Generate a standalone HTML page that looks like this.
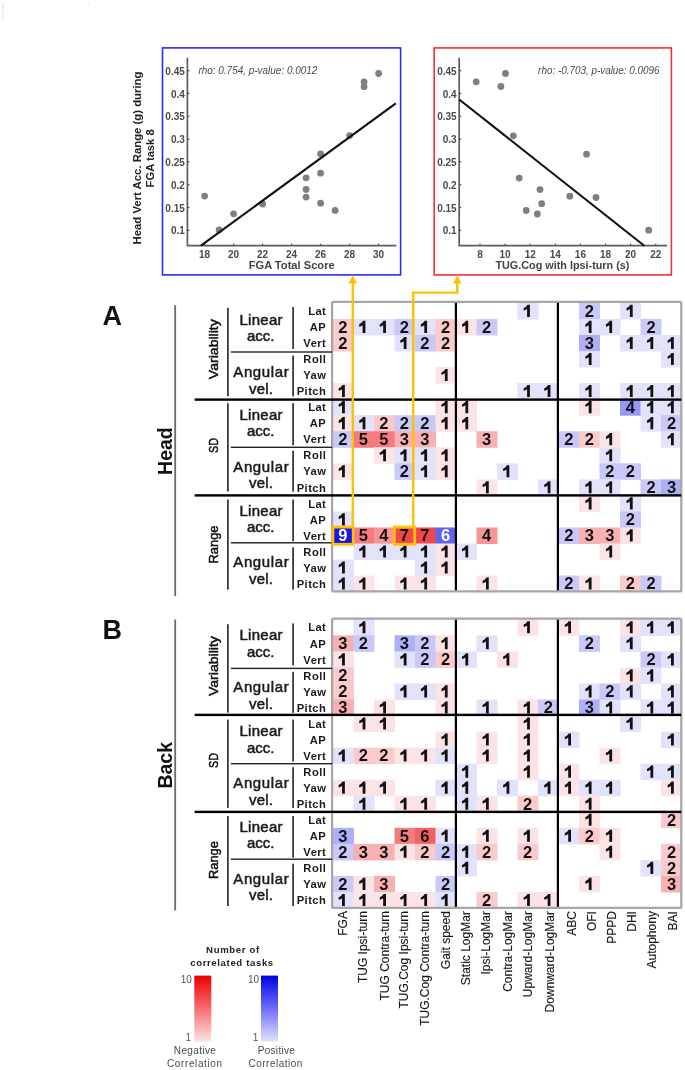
<!DOCTYPE html><html><head><meta charset="utf-8"><style>
html,body{margin:0;padding:0;background:#fff;width:685px;height:1070px;overflow:hidden}
svg{display:block;font-family:"Liberation Sans", sans-serif;filter:blur(0.3px)}
</style></head><body>
<svg width="685" height="1070" viewBox="0 0 685 1070">
<defs><path id="one" d="M3.8 0H6.2V12.1H3.4V4.3C2.4 5.0 1.2 5.5 0 5.8V3.3C1.6 2.7 3.1 1.6 3.8 0Z"/></defs>
<rect x="2" y="2" width="1.6" height="19" fill="#ececec"/>
<rect x="88" y="2" width="1" height="3" fill="#f0f0f0"/>
<rect x="162.5" y="47.9" width="238.1" height="227.0" fill="none" stroke="#2b2bf0" stroke-width="1.6"/>
<path d="M187.4 57.8 V245.7 H396.3" fill="none" stroke="#5c5c5c" stroke-width="1.7"/>
<line x1="187.4" y1="230.3" x2="189.4" y2="230.3" stroke="#4a4a4a" stroke-width="1.2"/>
<text x="184.8" y="234.3" font-size="10" font-weight="bold" fill="#4a4a4a" text-anchor="end">0.1</text>
<line x1="187.4" y1="207.5" x2="189.4" y2="207.5" stroke="#4a4a4a" stroke-width="1.2"/>
<text x="184.8" y="211.5" font-size="10" font-weight="bold" fill="#4a4a4a" text-anchor="end">0.15</text>
<line x1="187.4" y1="184.7" x2="189.4" y2="184.7" stroke="#4a4a4a" stroke-width="1.2"/>
<text x="184.8" y="188.7" font-size="10" font-weight="bold" fill="#4a4a4a" text-anchor="end">0.2</text>
<line x1="187.4" y1="161.9" x2="189.4" y2="161.9" stroke="#4a4a4a" stroke-width="1.2"/>
<text x="184.8" y="165.9" font-size="10" font-weight="bold" fill="#4a4a4a" text-anchor="end">0.25</text>
<line x1="187.4" y1="139.1" x2="189.4" y2="139.1" stroke="#4a4a4a" stroke-width="1.2"/>
<text x="184.8" y="143.1" font-size="10" font-weight="bold" fill="#4a4a4a" text-anchor="end">0.3</text>
<line x1="187.4" y1="116.3" x2="189.4" y2="116.3" stroke="#4a4a4a" stroke-width="1.2"/>
<text x="184.8" y="120.3" font-size="10" font-weight="bold" fill="#4a4a4a" text-anchor="end">0.35</text>
<line x1="187.4" y1="93.5" x2="189.4" y2="93.5" stroke="#4a4a4a" stroke-width="1.2"/>
<text x="184.8" y="97.5" font-size="10" font-weight="bold" fill="#4a4a4a" text-anchor="end">0.4</text>
<line x1="187.4" y1="70.7" x2="189.4" y2="70.7" stroke="#4a4a4a" stroke-width="1.2"/>
<text x="184.8" y="74.7" font-size="10" font-weight="bold" fill="#4a4a4a" text-anchor="end">0.45</text>
<line x1="204.6" y1="245.7" x2="204.6" y2="243.7" stroke="#4a4a4a" stroke-width="1.2"/>
<text x="204.6" y="258.3" font-size="10" font-weight="bold" fill="#4a4a4a" text-anchor="middle">18</text>
<line x1="233.6" y1="245.7" x2="233.6" y2="243.7" stroke="#4a4a4a" stroke-width="1.2"/>
<text x="233.6" y="258.3" font-size="10" font-weight="bold" fill="#4a4a4a" text-anchor="middle">20</text>
<line x1="262.6" y1="245.7" x2="262.6" y2="243.7" stroke="#4a4a4a" stroke-width="1.2"/>
<text x="262.6" y="258.3" font-size="10" font-weight="bold" fill="#4a4a4a" text-anchor="middle">22</text>
<line x1="291.6" y1="245.7" x2="291.6" y2="243.7" stroke="#4a4a4a" stroke-width="1.2"/>
<text x="291.6" y="258.3" font-size="10" font-weight="bold" fill="#4a4a4a" text-anchor="middle">24</text>
<line x1="320.6" y1="245.7" x2="320.6" y2="243.7" stroke="#4a4a4a" stroke-width="1.2"/>
<text x="320.6" y="258.3" font-size="10" font-weight="bold" fill="#4a4a4a" text-anchor="middle">26</text>
<line x1="349.6" y1="245.7" x2="349.6" y2="243.7" stroke="#4a4a4a" stroke-width="1.2"/>
<text x="349.6" y="258.3" font-size="10" font-weight="bold" fill="#4a4a4a" text-anchor="middle">28</text>
<line x1="378.6" y1="245.7" x2="378.6" y2="243.7" stroke="#4a4a4a" stroke-width="1.2"/>
<text x="378.6" y="258.3" font-size="10" font-weight="bold" fill="#4a4a4a" text-anchor="middle">30</text>
<circle cx="204.6" cy="196.1" r="3.4" fill="#7f7f7f"/>
<circle cx="219.1" cy="229.9" r="3.4" fill="#7f7f7f"/>
<circle cx="233.6" cy="213.8" r="3.4" fill="#7f7f7f"/>
<circle cx="262.6" cy="204.0" r="3.4" fill="#7f7f7f"/>
<circle cx="306.1" cy="177.8" r="3.4" fill="#7f7f7f"/>
<circle cx="306.1" cy="189.5" r="3.4" fill="#7f7f7f"/>
<circle cx="306.1" cy="197.1" r="3.4" fill="#7f7f7f"/>
<circle cx="320.6" cy="153.9" r="3.4" fill="#7f7f7f"/>
<circle cx="320.6" cy="173.2" r="3.4" fill="#7f7f7f"/>
<circle cx="320.6" cy="203.2" r="3.4" fill="#7f7f7f"/>
<circle cx="335.1" cy="210.4" r="3.4" fill="#7f7f7f"/>
<circle cx="349.6" cy="135.6" r="3.4" fill="#7f7f7f"/>
<circle cx="364.1" cy="81.8" r="3.4" fill="#7f7f7f"/>
<circle cx="364.1" cy="86.7" r="3.4" fill="#7f7f7f"/>
<circle cx="378.6" cy="73.5" r="3.4" fill="#7f7f7f"/>
<line x1="200.9" y1="245.7" x2="395.8" y2="103.4" stroke="#111" stroke-width="2.1"/>
<text x="198.4" y="74.4" font-size="10" font-style="italic" fill="#4a4a4a" text-anchor="start" textLength="119.0" lengthAdjust="spacingAndGlyphs">rho: 0.754, p-value: 0.0012</text>
<text x="291.7" y="268.8" font-size="11" font-weight="bold" fill="#444" text-anchor="middle" textLength="86.0" lengthAdjust="spacingAndGlyphs">FGA Total Score</text>
<rect x="434.2" y="47.9" width="237.2" height="227.0" fill="none" stroke="#f03030" stroke-width="1.6"/>
<path d="M459.2 57.8 V245.7 H667.1" fill="none" stroke="#5c5c5c" stroke-width="1.7"/>
<line x1="459.2" y1="230.3" x2="461.2" y2="230.3" stroke="#4a4a4a" stroke-width="1.2"/>
<text x="456.6" y="234.3" font-size="10" font-weight="bold" fill="#4a4a4a" text-anchor="end">0.1</text>
<line x1="459.2" y1="207.5" x2="461.2" y2="207.5" stroke="#4a4a4a" stroke-width="1.2"/>
<text x="456.6" y="211.5" font-size="10" font-weight="bold" fill="#4a4a4a" text-anchor="end">0.15</text>
<line x1="459.2" y1="184.7" x2="461.2" y2="184.7" stroke="#4a4a4a" stroke-width="1.2"/>
<text x="456.6" y="188.7" font-size="10" font-weight="bold" fill="#4a4a4a" text-anchor="end">0.2</text>
<line x1="459.2" y1="161.9" x2="461.2" y2="161.9" stroke="#4a4a4a" stroke-width="1.2"/>
<text x="456.6" y="165.9" font-size="10" font-weight="bold" fill="#4a4a4a" text-anchor="end">0.25</text>
<line x1="459.2" y1="139.1" x2="461.2" y2="139.1" stroke="#4a4a4a" stroke-width="1.2"/>
<text x="456.6" y="143.1" font-size="10" font-weight="bold" fill="#4a4a4a" text-anchor="end">0.3</text>
<line x1="459.2" y1="116.3" x2="461.2" y2="116.3" stroke="#4a4a4a" stroke-width="1.2"/>
<text x="456.6" y="120.3" font-size="10" font-weight="bold" fill="#4a4a4a" text-anchor="end">0.35</text>
<line x1="459.2" y1="93.5" x2="461.2" y2="93.5" stroke="#4a4a4a" stroke-width="1.2"/>
<text x="456.6" y="97.5" font-size="10" font-weight="bold" fill="#4a4a4a" text-anchor="end">0.4</text>
<line x1="459.2" y1="70.7" x2="461.2" y2="70.7" stroke="#4a4a4a" stroke-width="1.2"/>
<text x="456.6" y="74.7" font-size="10" font-weight="bold" fill="#4a4a4a" text-anchor="end">0.45</text>
<line x1="480.0" y1="245.7" x2="480.0" y2="243.7" stroke="#4a4a4a" stroke-width="1.2"/>
<text x="480.0" y="258.3" font-size="10" font-weight="bold" fill="#4a4a4a" text-anchor="middle">8</text>
<line x1="505.1" y1="245.7" x2="505.1" y2="243.7" stroke="#4a4a4a" stroke-width="1.2"/>
<text x="505.1" y="258.3" font-size="10" font-weight="bold" fill="#4a4a4a" text-anchor="middle">10</text>
<line x1="530.2" y1="245.7" x2="530.2" y2="243.7" stroke="#4a4a4a" stroke-width="1.2"/>
<text x="530.2" y="258.3" font-size="10" font-weight="bold" fill="#4a4a4a" text-anchor="middle">12</text>
<line x1="555.3" y1="245.7" x2="555.3" y2="243.7" stroke="#4a4a4a" stroke-width="1.2"/>
<text x="555.3" y="258.3" font-size="10" font-weight="bold" fill="#4a4a4a" text-anchor="middle">14</text>
<line x1="580.4" y1="245.7" x2="580.4" y2="243.7" stroke="#4a4a4a" stroke-width="1.2"/>
<text x="580.4" y="258.3" font-size="10" font-weight="bold" fill="#4a4a4a" text-anchor="middle">16</text>
<line x1="605.5" y1="245.7" x2="605.5" y2="243.7" stroke="#4a4a4a" stroke-width="1.2"/>
<text x="605.5" y="258.3" font-size="10" font-weight="bold" fill="#4a4a4a" text-anchor="middle">18</text>
<line x1="630.6" y1="245.7" x2="630.6" y2="243.7" stroke="#4a4a4a" stroke-width="1.2"/>
<text x="630.6" y="258.3" font-size="10" font-weight="bold" fill="#4a4a4a" text-anchor="middle">20</text>
<line x1="655.7" y1="245.7" x2="655.7" y2="243.7" stroke="#4a4a4a" stroke-width="1.2"/>
<text x="655.7" y="258.3" font-size="10" font-weight="bold" fill="#4a4a4a" text-anchor="middle">22</text>
<circle cx="476.2" cy="81.8" r="3.4" fill="#7f7f7f"/>
<circle cx="500.9" cy="86.5" r="3.4" fill="#7f7f7f"/>
<circle cx="505.5" cy="73.5" r="3.4" fill="#7f7f7f"/>
<circle cx="513.3" cy="135.8" r="3.4" fill="#7f7f7f"/>
<circle cx="586.6" cy="154.2" r="3.4" fill="#7f7f7f"/>
<circle cx="519.2" cy="178.1" r="3.4" fill="#7f7f7f"/>
<circle cx="540.0" cy="189.6" r="3.4" fill="#7f7f7f"/>
<circle cx="569.8" cy="196.2" r="3.4" fill="#7f7f7f"/>
<circle cx="596.0" cy="197.5" r="3.4" fill="#7f7f7f"/>
<circle cx="526.2" cy="210.5" r="3.4" fill="#7f7f7f"/>
<circle cx="541.7" cy="203.7" r="3.4" fill="#7f7f7f"/>
<circle cx="537.3" cy="214.0" r="3.4" fill="#7f7f7f"/>
<circle cx="648.7" cy="230.2" r="3.4" fill="#7f7f7f"/>
<line x1="459.2" y1="99.5" x2="644.3" y2="245.7" stroke="#111" stroke-width="2.1"/>
<text x="659.6" y="74.4" font-size="10" font-style="italic" fill="#4a4a4a" text-anchor="end" textLength="121.5" lengthAdjust="spacingAndGlyphs">rho: -0.703, p-value: 0.0096</text>
<text x="562.4" y="268.8" font-size="11" font-weight="bold" fill="#444" text-anchor="middle" textLength="134.0" lengthAdjust="spacingAndGlyphs">TUG.Cog with Ipsi-turn (s)</text>
<text transform="translate(141.4,158) rotate(-90)" font-size="11" font-weight="bold" fill="#222" text-anchor="middle" textLength="173" lengthAdjust="spacingAndGlyphs">Head Vert Acc. Range (g) during</text>
<text transform="translate(154.4,158.4) rotate(-90)" font-size="11" font-weight="bold" fill="#222" text-anchor="middle" textLength="58" lengthAdjust="spacingAndGlyphs">FGA task 8</text>
<rect x="517.50" y="302.90" width="21.00" height="16.54" fill="rgb(226,226,250)"/>
<rect x="579.00" y="302.90" width="21.00" height="16.54" fill="rgb(200,200,249)"/>
<rect x="620.00" y="302.90" width="21.00" height="16.54" fill="rgb(226,226,250)"/>
<rect x="333.00" y="318.94" width="21.00" height="16.54" fill="rgb(250,202,204)"/>
<rect x="353.50" y="318.94" width="21.00" height="16.54" fill="rgb(226,226,250)"/>
<rect x="374.00" y="318.94" width="21.00" height="16.54" fill="rgb(226,226,250)"/>
<rect x="394.50" y="318.94" width="21.00" height="16.54" fill="rgb(200,200,249)"/>
<rect x="415.00" y="318.94" width="21.00" height="16.54" fill="rgb(226,226,250)"/>
<rect x="435.50" y="318.94" width="21.00" height="16.54" fill="rgb(250,202,204)"/>
<rect x="456.00" y="318.94" width="21.00" height="16.54" fill="rgb(252,228,230)"/>
<rect x="476.50" y="318.94" width="21.00" height="16.54" fill="rgb(200,200,249)"/>
<rect x="579.00" y="318.94" width="21.00" height="16.54" fill="rgb(226,226,250)"/>
<rect x="599.50" y="318.94" width="21.00" height="16.54" fill="rgb(226,226,250)"/>
<rect x="640.50" y="318.94" width="21.00" height="16.54" fill="rgb(200,200,249)"/>
<rect x="333.00" y="334.98" width="21.00" height="16.54" fill="rgb(250,202,204)"/>
<rect x="394.50" y="334.98" width="21.00" height="16.54" fill="rgb(226,226,250)"/>
<rect x="415.00" y="334.98" width="21.00" height="16.54" fill="rgb(200,200,249)"/>
<rect x="435.50" y="334.98" width="21.00" height="16.54" fill="rgb(250,202,204)"/>
<rect x="579.00" y="334.98" width="21.00" height="16.54" fill="rgb(175,175,248)"/>
<rect x="620.00" y="334.98" width="21.00" height="16.54" fill="rgb(226,226,250)"/>
<rect x="640.50" y="334.98" width="21.00" height="16.54" fill="rgb(226,226,250)"/>
<rect x="661.00" y="334.98" width="21.00" height="16.54" fill="rgb(226,226,250)"/>
<rect x="579.00" y="351.02" width="21.00" height="16.54" fill="rgb(226,226,250)"/>
<rect x="661.00" y="351.02" width="21.00" height="16.54" fill="rgb(226,226,250)"/>
<rect x="435.50" y="367.06" width="21.00" height="16.54" fill="rgb(252,228,230)"/>
<rect x="333.00" y="383.10" width="21.00" height="16.54" fill="rgb(252,228,230)"/>
<rect x="517.50" y="383.10" width="21.00" height="16.54" fill="rgb(226,226,250)"/>
<rect x="538.00" y="383.10" width="21.00" height="16.54" fill="rgb(226,226,250)"/>
<rect x="579.00" y="383.10" width="21.00" height="16.54" fill="rgb(226,226,250)"/>
<rect x="620.00" y="383.10" width="21.00" height="16.54" fill="rgb(226,226,250)"/>
<rect x="640.50" y="383.10" width="21.00" height="16.54" fill="rgb(226,226,250)"/>
<rect x="661.00" y="383.10" width="21.00" height="16.54" fill="rgb(226,226,250)"/>
<rect x="333.00" y="399.14" width="21.00" height="16.54" fill="rgb(226,226,250)"/>
<rect x="435.50" y="399.14" width="21.00" height="16.54" fill="rgb(252,228,230)"/>
<rect x="456.00" y="399.14" width="21.00" height="16.54" fill="rgb(252,228,230)"/>
<rect x="579.00" y="399.14" width="21.00" height="16.54" fill="rgb(252,228,230)"/>
<rect x="620.00" y="399.14" width="21.00" height="16.54" fill="rgb(150,150,246)"/>
<rect x="640.50" y="399.14" width="21.00" height="16.54" fill="rgb(226,226,250)"/>
<rect x="661.00" y="399.14" width="21.00" height="16.54" fill="rgb(226,226,250)"/>
<rect x="333.00" y="415.18" width="21.00" height="16.54" fill="rgb(252,228,230)"/>
<rect x="353.50" y="415.18" width="21.00" height="16.54" fill="rgb(226,226,250)"/>
<rect x="374.00" y="415.18" width="21.00" height="16.54" fill="rgb(250,202,204)"/>
<rect x="394.50" y="415.18" width="21.00" height="16.54" fill="rgb(200,200,249)"/>
<rect x="415.00" y="415.18" width="21.00" height="16.54" fill="rgb(200,200,249)"/>
<rect x="435.50" y="415.18" width="21.00" height="16.54" fill="rgb(252,228,230)"/>
<rect x="456.00" y="415.18" width="21.00" height="16.54" fill="rgb(252,228,230)"/>
<rect x="640.50" y="415.18" width="21.00" height="16.54" fill="rgb(226,226,250)"/>
<rect x="661.00" y="415.18" width="21.00" height="16.54" fill="rgb(200,200,249)"/>
<rect x="333.00" y="431.22" width="21.00" height="16.54" fill="rgb(200,200,249)"/>
<rect x="353.50" y="431.22" width="21.00" height="16.54" fill="rgb(244,124,126)"/>
<rect x="374.00" y="431.22" width="21.00" height="16.54" fill="rgb(244,124,126)"/>
<rect x="394.50" y="431.22" width="21.00" height="16.54" fill="rgb(248,176,178)"/>
<rect x="415.00" y="431.22" width="21.00" height="16.54" fill="rgb(248,176,178)"/>
<rect x="476.50" y="431.22" width="21.00" height="16.54" fill="rgb(248,176,178)"/>
<rect x="558.50" y="431.22" width="21.00" height="16.54" fill="rgb(200,200,249)"/>
<rect x="579.00" y="431.22" width="21.00" height="16.54" fill="rgb(250,202,204)"/>
<rect x="599.50" y="431.22" width="21.00" height="16.54" fill="rgb(252,228,230)"/>
<rect x="661.00" y="431.22" width="21.00" height="16.54" fill="rgb(226,226,250)"/>
<rect x="374.00" y="447.26" width="21.00" height="16.54" fill="rgb(252,228,230)"/>
<rect x="394.50" y="447.26" width="21.00" height="16.54" fill="rgb(226,226,250)"/>
<rect x="415.00" y="447.26" width="21.00" height="16.54" fill="rgb(226,226,250)"/>
<rect x="435.50" y="447.26" width="21.00" height="16.54" fill="rgb(252,228,230)"/>
<rect x="599.50" y="447.26" width="21.00" height="16.54" fill="rgb(226,226,250)"/>
<rect x="333.00" y="463.30" width="21.00" height="16.54" fill="rgb(252,228,230)"/>
<rect x="394.50" y="463.30" width="21.00" height="16.54" fill="rgb(200,200,249)"/>
<rect x="415.00" y="463.30" width="21.00" height="16.54" fill="rgb(226,226,250)"/>
<rect x="435.50" y="463.30" width="21.00" height="16.54" fill="rgb(252,228,230)"/>
<rect x="497.00" y="463.30" width="21.00" height="16.54" fill="rgb(226,226,250)"/>
<rect x="599.50" y="463.30" width="21.00" height="16.54" fill="rgb(200,200,249)"/>
<rect x="620.00" y="463.30" width="21.00" height="16.54" fill="rgb(200,200,249)"/>
<rect x="476.50" y="479.34" width="21.00" height="16.54" fill="rgb(252,228,230)"/>
<rect x="538.00" y="479.34" width="21.00" height="16.54" fill="rgb(226,226,250)"/>
<rect x="579.00" y="479.34" width="21.00" height="16.54" fill="rgb(226,226,250)"/>
<rect x="599.50" y="479.34" width="21.00" height="16.54" fill="rgb(226,226,250)"/>
<rect x="640.50" y="479.34" width="21.00" height="16.54" fill="rgb(200,200,249)"/>
<rect x="661.00" y="479.34" width="21.00" height="16.54" fill="rgb(175,175,248)"/>
<rect x="579.00" y="495.38" width="21.00" height="16.54" fill="rgb(252,228,230)"/>
<rect x="620.00" y="495.38" width="21.00" height="16.54" fill="rgb(226,226,250)"/>
<rect x="333.00" y="511.42" width="21.00" height="16.54" fill="rgb(226,226,250)"/>
<rect x="620.00" y="511.42" width="21.00" height="16.54" fill="rgb(200,200,249)"/>
<rect x="333.00" y="527.46" width="21.00" height="16.54" fill="rgb(22,22,240)"/>
<rect x="353.50" y="527.46" width="21.00" height="16.54" fill="rgb(244,124,126)"/>
<rect x="374.00" y="527.46" width="21.00" height="16.54" fill="rgb(246,150,152)"/>
<rect x="394.50" y="527.46" width="21.00" height="16.54" fill="rgb(240,72,74)"/>
<rect x="415.00" y="527.46" width="21.00" height="16.54" fill="rgb(240,72,74)"/>
<rect x="435.50" y="527.46" width="21.00" height="16.54" fill="rgb(98,98,244)"/>
<rect x="476.50" y="527.46" width="21.00" height="16.54" fill="rgb(246,150,152)"/>
<rect x="558.50" y="527.46" width="21.00" height="16.54" fill="rgb(200,200,249)"/>
<rect x="579.00" y="527.46" width="21.00" height="16.54" fill="rgb(248,176,178)"/>
<rect x="599.50" y="527.46" width="21.00" height="16.54" fill="rgb(248,176,178)"/>
<rect x="620.00" y="527.46" width="21.00" height="16.54" fill="rgb(252,228,230)"/>
<rect x="353.50" y="543.50" width="21.00" height="16.54" fill="rgb(226,226,250)"/>
<rect x="374.00" y="543.50" width="21.00" height="16.54" fill="rgb(226,226,250)"/>
<rect x="394.50" y="543.50" width="21.00" height="16.54" fill="rgb(226,226,250)"/>
<rect x="415.00" y="543.50" width="21.00" height="16.54" fill="rgb(226,226,250)"/>
<rect x="435.50" y="543.50" width="21.00" height="16.54" fill="rgb(252,228,230)"/>
<rect x="456.00" y="543.50" width="21.00" height="16.54" fill="rgb(226,226,250)"/>
<rect x="599.50" y="543.50" width="21.00" height="16.54" fill="rgb(252,228,230)"/>
<rect x="333.00" y="559.54" width="21.00" height="16.54" fill="rgb(226,226,250)"/>
<rect x="415.00" y="559.54" width="21.00" height="16.54" fill="rgb(226,226,250)"/>
<rect x="435.50" y="559.54" width="21.00" height="16.54" fill="rgb(252,228,230)"/>
<rect x="333.00" y="575.58" width="21.00" height="16.54" fill="rgb(226,226,250)"/>
<rect x="353.50" y="575.58" width="21.00" height="16.54" fill="rgb(252,228,230)"/>
<rect x="394.50" y="575.58" width="21.00" height="16.54" fill="rgb(252,228,230)"/>
<rect x="415.00" y="575.58" width="21.00" height="16.54" fill="rgb(252,228,230)"/>
<rect x="476.50" y="575.58" width="21.00" height="16.54" fill="rgb(252,228,230)"/>
<rect x="558.50" y="575.58" width="21.00" height="16.54" fill="rgb(200,200,249)"/>
<rect x="579.00" y="575.58" width="21.00" height="16.54" fill="rgb(252,228,230)"/>
<rect x="620.00" y="575.58" width="21.00" height="16.54" fill="rgb(250,202,204)"/>
<rect x="640.50" y="575.58" width="21.00" height="16.54" fill="rgb(200,200,249)"/>
<use href="#one" x="523.69" y="304.80" fill="#111"/>
<text x="589.35" y="316.67" font-size="16.5" font-weight="bold" fill="#111" text-anchor="middle">2</text>
<use href="#one" x="626.49" y="304.80" fill="#111"/>
<text x="342.75" y="332.71" font-size="16.5" font-weight="bold" fill="#111" text-anchor="middle">2</text>
<use href="#one" x="359.21" y="320.84" fill="#111"/>
<use href="#one" x="379.77" y="320.84" fill="#111"/>
<text x="404.40" y="332.71" font-size="16.5" font-weight="bold" fill="#111" text-anchor="middle">2</text>
<use href="#one" x="420.89" y="320.84" fill="#111"/>
<text x="445.50" y="332.71" font-size="16.5" font-weight="bold" fill="#111" text-anchor="middle">2</text>
<use href="#one" x="462.01" y="320.84" fill="#111"/>
<text x="486.60" y="332.71" font-size="16.5" font-weight="bold" fill="#111" text-anchor="middle">2</text>
<use href="#one" x="585.37" y="320.84" fill="#111"/>
<use href="#one" x="605.93" y="320.84" fill="#111"/>
<text x="651.00" y="332.71" font-size="16.5" font-weight="bold" fill="#111" text-anchor="middle">2</text>
<text x="342.75" y="348.75" font-size="16.5" font-weight="bold" fill="#111" text-anchor="middle">2</text>
<use href="#one" x="400.33" y="336.88" fill="#111"/>
<text x="424.95" y="348.75" font-size="16.5" font-weight="bold" fill="#111" text-anchor="middle">2</text>
<text x="445.50" y="348.75" font-size="16.5" font-weight="bold" fill="#111" text-anchor="middle">2</text>
<text x="589.35" y="348.75" font-size="16.5" font-weight="bold" fill="#111" text-anchor="middle">3</text>
<use href="#one" x="626.49" y="336.88" fill="#111"/>
<use href="#one" x="647.05" y="336.88" fill="#111"/>
<use href="#one" x="667.61" y="336.88" fill="#111"/>
<use href="#one" x="585.37" y="352.92" fill="#111"/>
<use href="#one" x="667.61" y="352.92" fill="#111"/>
<use href="#one" x="441.45" y="368.96" fill="#111"/>
<use href="#one" x="338.65" y="385.00" fill="#111"/>
<use href="#one" x="523.69" y="385.00" fill="#111"/>
<use href="#one" x="544.25" y="385.00" fill="#111"/>
<use href="#one" x="585.37" y="385.00" fill="#111"/>
<use href="#one" x="626.49" y="385.00" fill="#111"/>
<use href="#one" x="647.05" y="385.00" fill="#111"/>
<use href="#one" x="667.61" y="385.00" fill="#111"/>
<use href="#one" x="338.65" y="401.04" fill="#111"/>
<use href="#one" x="441.45" y="401.04" fill="#111"/>
<use href="#one" x="462.01" y="401.04" fill="#111"/>
<use href="#one" x="585.37" y="401.04" fill="#111"/>
<text x="630.45" y="412.91" font-size="16.5" font-weight="bold" fill="#111" text-anchor="middle">4</text>
<use href="#one" x="647.05" y="401.04" fill="#111"/>
<use href="#one" x="667.61" y="401.04" fill="#111"/>
<use href="#one" x="338.65" y="417.08" fill="#111"/>
<use href="#one" x="359.21" y="417.08" fill="#111"/>
<text x="383.85" y="428.95" font-size="16.5" font-weight="bold" fill="#111" text-anchor="middle">2</text>
<text x="404.40" y="428.95" font-size="16.5" font-weight="bold" fill="#111" text-anchor="middle">2</text>
<text x="424.95" y="428.95" font-size="16.5" font-weight="bold" fill="#111" text-anchor="middle">2</text>
<use href="#one" x="441.45" y="417.08" fill="#111"/>
<use href="#one" x="462.01" y="417.08" fill="#111"/>
<use href="#one" x="647.05" y="417.08" fill="#111"/>
<text x="671.55" y="428.95" font-size="16.5" font-weight="bold" fill="#111" text-anchor="middle">2</text>
<text x="342.75" y="444.99" font-size="16.5" font-weight="bold" fill="#111" text-anchor="middle">2</text>
<text x="363.30" y="444.99" font-size="16.5" font-weight="bold" fill="#111" text-anchor="middle">5</text>
<text x="383.85" y="444.99" font-size="16.5" font-weight="bold" fill="#111" text-anchor="middle">5</text>
<text x="404.40" y="444.99" font-size="16.5" font-weight="bold" fill="#111" text-anchor="middle">3</text>
<text x="424.95" y="444.99" font-size="16.5" font-weight="bold" fill="#111" text-anchor="middle">3</text>
<text x="486.60" y="444.99" font-size="16.5" font-weight="bold" fill="#111" text-anchor="middle">3</text>
<text x="568.80" y="444.99" font-size="16.5" font-weight="bold" fill="#111" text-anchor="middle">2</text>
<text x="589.35" y="444.99" font-size="16.5" font-weight="bold" fill="#111" text-anchor="middle">2</text>
<use href="#one" x="605.93" y="433.12" fill="#111"/>
<use href="#one" x="667.61" y="433.12" fill="#111"/>
<use href="#one" x="379.77" y="449.16" fill="#111"/>
<use href="#one" x="400.33" y="449.16" fill="#111"/>
<use href="#one" x="420.89" y="449.16" fill="#111"/>
<use href="#one" x="441.45" y="449.16" fill="#111"/>
<use href="#one" x="605.93" y="449.16" fill="#111"/>
<use href="#one" x="338.65" y="465.20" fill="#111"/>
<text x="404.40" y="477.07" font-size="16.5" font-weight="bold" fill="#111" text-anchor="middle">2</text>
<use href="#one" x="420.89" y="465.20" fill="#111"/>
<use href="#one" x="441.45" y="465.20" fill="#111"/>
<use href="#one" x="503.13" y="465.20" fill="#111"/>
<text x="609.90" y="477.07" font-size="16.5" font-weight="bold" fill="#111" text-anchor="middle">2</text>
<text x="630.45" y="477.07" font-size="16.5" font-weight="bold" fill="#111" text-anchor="middle">2</text>
<use href="#one" x="482.57" y="481.24" fill="#111"/>
<use href="#one" x="544.25" y="481.24" fill="#111"/>
<use href="#one" x="585.37" y="481.24" fill="#111"/>
<use href="#one" x="605.93" y="481.24" fill="#111"/>
<text x="651.00" y="493.11" font-size="16.5" font-weight="bold" fill="#111" text-anchor="middle">2</text>
<text x="671.55" y="493.11" font-size="16.5" font-weight="bold" fill="#111" text-anchor="middle">3</text>
<use href="#one" x="585.37" y="497.28" fill="#111"/>
<use href="#one" x="626.49" y="497.28" fill="#111"/>
<use href="#one" x="338.65" y="513.32" fill="#111"/>
<text x="630.45" y="525.19" font-size="16.5" font-weight="bold" fill="#111" text-anchor="middle">2</text>
<text x="342.75" y="541.23" font-size="16.5" font-weight="bold" fill="#fff" text-anchor="middle">9</text>
<text x="363.30" y="541.23" font-size="16.5" font-weight="bold" fill="#111" text-anchor="middle">5</text>
<text x="383.85" y="541.23" font-size="16.5" font-weight="bold" fill="#111" text-anchor="middle">4</text>
<text x="404.40" y="541.23" font-size="16.5" font-weight="bold" fill="#111" text-anchor="middle">7</text>
<text x="424.95" y="541.23" font-size="16.5" font-weight="bold" fill="#111" text-anchor="middle">7</text>
<text x="445.50" y="541.23" font-size="16.5" font-weight="bold" fill="#fff" text-anchor="middle">6</text>
<text x="486.60" y="541.23" font-size="16.5" font-weight="bold" fill="#111" text-anchor="middle">4</text>
<text x="568.80" y="541.23" font-size="16.5" font-weight="bold" fill="#111" text-anchor="middle">2</text>
<text x="589.35" y="541.23" font-size="16.5" font-weight="bold" fill="#111" text-anchor="middle">3</text>
<text x="609.90" y="541.23" font-size="16.5" font-weight="bold" fill="#111" text-anchor="middle">3</text>
<use href="#one" x="626.49" y="529.36" fill="#111"/>
<use href="#one" x="359.21" y="545.40" fill="#111"/>
<use href="#one" x="379.77" y="545.40" fill="#111"/>
<use href="#one" x="400.33" y="545.40" fill="#111"/>
<use href="#one" x="420.89" y="545.40" fill="#111"/>
<use href="#one" x="441.45" y="545.40" fill="#111"/>
<use href="#one" x="462.01" y="545.40" fill="#111"/>
<use href="#one" x="605.93" y="545.40" fill="#111"/>
<use href="#one" x="338.65" y="561.44" fill="#111"/>
<use href="#one" x="420.89" y="561.44" fill="#111"/>
<use href="#one" x="441.45" y="561.44" fill="#111"/>
<use href="#one" x="338.65" y="577.48" fill="#111"/>
<use href="#one" x="359.21" y="577.48" fill="#111"/>
<use href="#one" x="400.33" y="577.48" fill="#111"/>
<use href="#one" x="420.89" y="577.48" fill="#111"/>
<use href="#one" x="482.57" y="577.48" fill="#111"/>
<text x="568.80" y="589.35" font-size="16.5" font-weight="bold" fill="#111" text-anchor="middle">2</text>
<use href="#one" x="585.37" y="577.48" fill="#111"/>
<text x="630.45" y="589.35" font-size="16.5" font-weight="bold" fill="#111" text-anchor="middle">2</text>
<text x="651.00" y="589.35" font-size="16.5" font-weight="bold" fill="#111" text-anchor="middle">2</text>
<rect x="332.1" y="301.8" width="349.2" height="289.6" fill="none" stroke="#a6a6a6" stroke-width="2.2" rx="1.5"/>
<rect x="454.80" y="302.9" width="2.2" height="287.4" fill="#000"/>
<rect x="556.80" y="302.9" width="2.2" height="287.4" fill="#000"/>
<rect x="194.6" y="398.40" width="486.7" height="2.4" fill="#000"/>
<rect x="194.6" y="494.20" width="486.7" height="2.4" fill="#000"/>
<text transform="translate(218.0,349.2) rotate(-90)" font-size="13.6" fill="#111" stroke="#111" stroke-width="0.5" text-anchor="middle" textLength="60" lengthAdjust="spacingAndGlyphs">Variability</text>
<rect x="227.1" y="307.8" width="1.6" height="88.4" fill="#222"/>
<rect x="292.3" y="307.0" width="1.6" height="42.0" fill="#222"/>
<rect x="292.3" y="355.5" width="1.6" height="40.9" fill="#222"/>
<rect x="230.9" y="351.3" width="101.2" height="1.4" fill="#222"/>
<text x="261.0" y="325.2" font-size="15" fill="#1a1a1a" stroke="#1a1a1a" stroke-width="0.5" text-anchor="middle" textLength="43" lengthAdjust="spacing">Linear</text>
<text x="260.7" y="341.3" font-size="15" fill="#1a1a1a" stroke="#1a1a1a" stroke-width="0.5" text-anchor="middle" textLength="27.5" lengthAdjust="spacing">acc.</text>
<text x="261.0" y="376.6" font-size="15" fill="#1a1a1a" stroke="#1a1a1a" stroke-width="0.5" text-anchor="middle" textLength="55.5" lengthAdjust="spacing">Angular</text>
<text x="261.0" y="393.9" font-size="15" fill="#1a1a1a" stroke="#1a1a1a" stroke-width="0.5" text-anchor="middle" textLength="24" lengthAdjust="spacing">vel.</text>
<text x="326.3" y="315.0" font-size="11.2" font-weight="bold" fill="#1a1a1a" letter-spacing="0.45" text-anchor="end">Lat</text>
<text x="326.3" y="331.1" font-size="11.2" font-weight="bold" fill="#1a1a1a" letter-spacing="0.45" text-anchor="end">AP</text>
<text x="326.3" y="347.1" font-size="11.2" font-weight="bold" fill="#1a1a1a" letter-spacing="0.45" text-anchor="end">Vert</text>
<text x="326.3" y="363.2" font-size="11.2" font-weight="bold" fill="#1a1a1a" letter-spacing="0.45" text-anchor="end">Roll</text>
<text x="326.3" y="379.2" font-size="11.2" font-weight="bold" fill="#1a1a1a" letter-spacing="0.45" text-anchor="end">Yaw</text>
<text x="326.3" y="395.2" font-size="11.2" font-weight="bold" fill="#1a1a1a" letter-spacing="0.45" text-anchor="end">Pitch</text>
<text transform="translate(218.0,445.4) rotate(-90)" font-size="13.6" fill="#111" stroke="#111" stroke-width="0.5" text-anchor="middle" textLength="15" lengthAdjust="spacingAndGlyphs">SD</text>
<rect x="227.1" y="403.2" width="1.6" height="88.3" fill="#222"/>
<rect x="292.3" y="403.2" width="1.6" height="42.0" fill="#222"/>
<rect x="292.3" y="450.8" width="1.6" height="40.8" fill="#222"/>
<rect x="230.9" y="446.6" width="101.2" height="1.4" fill="#222"/>
<text x="261.0" y="419.9" font-size="15" fill="#1a1a1a" stroke="#1a1a1a" stroke-width="0.5" text-anchor="middle" textLength="43" lengthAdjust="spacing">Linear</text>
<text x="260.7" y="436.3" font-size="15" fill="#1a1a1a" stroke="#1a1a1a" stroke-width="0.5" text-anchor="middle" textLength="27.5" lengthAdjust="spacing">acc.</text>
<text x="261.0" y="471.9" font-size="15" fill="#1a1a1a" stroke="#1a1a1a" stroke-width="0.5" text-anchor="middle" textLength="55.5" lengthAdjust="spacing">Angular</text>
<text x="261.0" y="488.3" font-size="15" fill="#1a1a1a" stroke="#1a1a1a" stroke-width="0.5" text-anchor="middle" textLength="24" lengthAdjust="spacing">vel.</text>
<text x="326.3" y="411.3" font-size="11.2" font-weight="bold" fill="#1a1a1a" letter-spacing="0.45" text-anchor="end">Lat</text>
<text x="326.3" y="427.3" font-size="11.2" font-weight="bold" fill="#1a1a1a" letter-spacing="0.45" text-anchor="end">AP</text>
<text x="326.3" y="443.4" font-size="11.2" font-weight="bold" fill="#1a1a1a" letter-spacing="0.45" text-anchor="end">Vert</text>
<text x="326.3" y="459.4" font-size="11.2" font-weight="bold" fill="#1a1a1a" letter-spacing="0.45" text-anchor="end">Roll</text>
<text x="326.3" y="475.4" font-size="11.2" font-weight="bold" fill="#1a1a1a" letter-spacing="0.45" text-anchor="end">Yaw</text>
<text x="326.3" y="491.5" font-size="11.2" font-weight="bold" fill="#1a1a1a" letter-spacing="0.45" text-anchor="end">Pitch</text>
<text transform="translate(218.0,544.5) rotate(-90)" font-size="13.6" fill="#111" stroke="#111" stroke-width="0.5" text-anchor="middle" textLength="38" lengthAdjust="spacingAndGlyphs">Range</text>
<rect x="227.1" y="499.6" width="1.6" height="90.0" fill="#222"/>
<rect x="292.3" y="499.6" width="1.6" height="41.7" fill="#222"/>
<rect x="292.3" y="547.3" width="1.6" height="42.3" fill="#222"/>
<rect x="230.9" y="542.1" width="101.2" height="1.4" fill="#222"/>
<text x="261.0" y="515.8" font-size="15" fill="#1a1a1a" stroke="#1a1a1a" stroke-width="0.5" text-anchor="middle" textLength="43" lengthAdjust="spacing">Linear</text>
<text x="260.7" y="531.6" font-size="15" fill="#1a1a1a" stroke="#1a1a1a" stroke-width="0.5" text-anchor="middle" textLength="27.5" lengthAdjust="spacing">acc.</text>
<text x="261.0" y="567.3" font-size="15" fill="#1a1a1a" stroke="#1a1a1a" stroke-width="0.5" text-anchor="middle" textLength="55.5" lengthAdjust="spacing">Angular</text>
<text x="261.0" y="583.7" font-size="15" fill="#1a1a1a" stroke="#1a1a1a" stroke-width="0.5" text-anchor="middle" textLength="24" lengthAdjust="spacing">vel.</text>
<text x="326.3" y="507.5" font-size="11.2" font-weight="bold" fill="#1a1a1a" letter-spacing="0.45" text-anchor="end">Lat</text>
<text x="326.3" y="523.6" font-size="11.2" font-weight="bold" fill="#1a1a1a" letter-spacing="0.45" text-anchor="end">AP</text>
<text x="326.3" y="539.6" font-size="11.2" font-weight="bold" fill="#1a1a1a" letter-spacing="0.45" text-anchor="end">Vert</text>
<text x="326.3" y="555.6" font-size="11.2" font-weight="bold" fill="#1a1a1a" letter-spacing="0.45" text-anchor="end">Roll</text>
<text x="326.3" y="571.7" font-size="11.2" font-weight="bold" fill="#1a1a1a" letter-spacing="0.45" text-anchor="end">Yaw</text>
<text x="326.3" y="587.7" font-size="11.2" font-weight="bold" fill="#1a1a1a" letter-spacing="0.45" text-anchor="end">Pitch</text>
<rect x="174.3" y="305.2" width="1.8" height="291.0" fill="#6a6a6a"/>
<text transform="translate(171.6,451.1) rotate(-90)" font-size="19.5" font-weight="bold" fill="#111" text-anchor="middle">Head</text>
<text x="102.5" y="325.0" font-size="27" font-weight="bold" fill="#111">A</text>
<rect x="353.50" y="619.30" width="21.00" height="16.54" fill="rgb(226,226,250)"/>
<rect x="517.50" y="619.30" width="21.00" height="16.54" fill="rgb(252,228,230)"/>
<rect x="558.50" y="619.30" width="21.00" height="16.54" fill="rgb(252,228,230)"/>
<rect x="620.00" y="619.30" width="21.00" height="16.54" fill="rgb(252,228,230)"/>
<rect x="640.50" y="619.30" width="21.00" height="16.54" fill="rgb(226,226,250)"/>
<rect x="661.00" y="619.30" width="21.00" height="16.54" fill="rgb(226,226,250)"/>
<rect x="333.00" y="635.34" width="21.00" height="16.54" fill="rgb(248,176,178)"/>
<rect x="353.50" y="635.34" width="21.00" height="16.54" fill="rgb(200,200,249)"/>
<rect x="394.50" y="635.34" width="21.00" height="16.54" fill="rgb(175,175,248)"/>
<rect x="415.00" y="635.34" width="21.00" height="16.54" fill="rgb(200,200,249)"/>
<rect x="435.50" y="635.34" width="21.00" height="16.54" fill="rgb(252,228,230)"/>
<rect x="476.50" y="635.34" width="21.00" height="16.54" fill="rgb(226,226,250)"/>
<rect x="579.00" y="635.34" width="21.00" height="16.54" fill="rgb(200,200,249)"/>
<rect x="620.00" y="635.34" width="21.00" height="16.54" fill="rgb(226,226,250)"/>
<rect x="333.00" y="651.38" width="21.00" height="16.54" fill="rgb(252,228,230)"/>
<rect x="394.50" y="651.38" width="21.00" height="16.54" fill="rgb(226,226,250)"/>
<rect x="415.00" y="651.38" width="21.00" height="16.54" fill="rgb(200,200,249)"/>
<rect x="435.50" y="651.38" width="21.00" height="16.54" fill="rgb(250,202,204)"/>
<rect x="456.00" y="651.38" width="21.00" height="16.54" fill="rgb(226,226,250)"/>
<rect x="497.00" y="651.38" width="21.00" height="16.54" fill="rgb(252,228,230)"/>
<rect x="640.50" y="651.38" width="21.00" height="16.54" fill="rgb(200,200,249)"/>
<rect x="661.00" y="651.38" width="21.00" height="16.54" fill="rgb(226,226,250)"/>
<rect x="333.00" y="667.42" width="21.00" height="16.54" fill="rgb(250,202,204)"/>
<rect x="620.00" y="667.42" width="21.00" height="16.54" fill="rgb(252,228,230)"/>
<rect x="640.50" y="667.42" width="21.00" height="16.54" fill="rgb(226,226,250)"/>
<rect x="333.00" y="683.46" width="21.00" height="16.54" fill="rgb(250,202,204)"/>
<rect x="394.50" y="683.46" width="21.00" height="16.54" fill="rgb(226,226,250)"/>
<rect x="415.00" y="683.46" width="21.00" height="16.54" fill="rgb(226,226,250)"/>
<rect x="435.50" y="683.46" width="21.00" height="16.54" fill="rgb(252,228,230)"/>
<rect x="579.00" y="683.46" width="21.00" height="16.54" fill="rgb(226,226,250)"/>
<rect x="599.50" y="683.46" width="21.00" height="16.54" fill="rgb(200,200,249)"/>
<rect x="620.00" y="683.46" width="21.00" height="16.54" fill="rgb(226,226,250)"/>
<rect x="661.00" y="683.46" width="21.00" height="16.54" fill="rgb(226,226,250)"/>
<rect x="333.00" y="699.50" width="21.00" height="16.54" fill="rgb(248,176,178)"/>
<rect x="374.00" y="699.50" width="21.00" height="16.54" fill="rgb(252,228,230)"/>
<rect x="435.50" y="699.50" width="21.00" height="16.54" fill="rgb(252,228,230)"/>
<rect x="476.50" y="699.50" width="21.00" height="16.54" fill="rgb(226,226,250)"/>
<rect x="517.50" y="699.50" width="21.00" height="16.54" fill="rgb(252,228,230)"/>
<rect x="538.00" y="699.50" width="21.00" height="16.54" fill="rgb(200,200,249)"/>
<rect x="579.00" y="699.50" width="21.00" height="16.54" fill="rgb(175,175,248)"/>
<rect x="599.50" y="699.50" width="21.00" height="16.54" fill="rgb(226,226,250)"/>
<rect x="640.50" y="699.50" width="21.00" height="16.54" fill="rgb(226,226,250)"/>
<rect x="661.00" y="699.50" width="21.00" height="16.54" fill="rgb(226,226,250)"/>
<rect x="353.50" y="715.54" width="21.00" height="16.54" fill="rgb(252,228,230)"/>
<rect x="374.00" y="715.54" width="21.00" height="16.54" fill="rgb(252,228,230)"/>
<rect x="517.50" y="715.54" width="21.00" height="16.54" fill="rgb(252,228,230)"/>
<rect x="620.00" y="715.54" width="21.00" height="16.54" fill="rgb(226,226,250)"/>
<rect x="435.50" y="731.58" width="21.00" height="16.54" fill="rgb(252,228,230)"/>
<rect x="476.50" y="731.58" width="21.00" height="16.54" fill="rgb(252,228,230)"/>
<rect x="517.50" y="731.58" width="21.00" height="16.54" fill="rgb(252,228,230)"/>
<rect x="558.50" y="731.58" width="21.00" height="16.54" fill="rgb(226,226,250)"/>
<rect x="661.00" y="731.58" width="21.00" height="16.54" fill="rgb(226,226,250)"/>
<rect x="333.00" y="747.62" width="21.00" height="16.54" fill="rgb(226,226,250)"/>
<rect x="353.50" y="747.62" width="21.00" height="16.54" fill="rgb(250,202,204)"/>
<rect x="374.00" y="747.62" width="21.00" height="16.54" fill="rgb(250,202,204)"/>
<rect x="394.50" y="747.62" width="21.00" height="16.54" fill="rgb(252,228,230)"/>
<rect x="415.00" y="747.62" width="21.00" height="16.54" fill="rgb(252,228,230)"/>
<rect x="435.50" y="747.62" width="21.00" height="16.54" fill="rgb(226,226,250)"/>
<rect x="476.50" y="747.62" width="21.00" height="16.54" fill="rgb(252,228,230)"/>
<rect x="517.50" y="747.62" width="21.00" height="16.54" fill="rgb(252,228,230)"/>
<rect x="599.50" y="747.62" width="21.00" height="16.54" fill="rgb(252,228,230)"/>
<rect x="456.00" y="763.66" width="21.00" height="16.54" fill="rgb(226,226,250)"/>
<rect x="517.50" y="763.66" width="21.00" height="16.54" fill="rgb(252,228,230)"/>
<rect x="558.50" y="763.66" width="21.00" height="16.54" fill="rgb(252,228,230)"/>
<rect x="640.50" y="763.66" width="21.00" height="16.54" fill="rgb(226,226,250)"/>
<rect x="661.00" y="763.66" width="21.00" height="16.54" fill="rgb(226,226,250)"/>
<rect x="333.00" y="779.70" width="21.00" height="16.54" fill="rgb(252,228,230)"/>
<rect x="353.50" y="779.70" width="21.00" height="16.54" fill="rgb(252,228,230)"/>
<rect x="374.00" y="779.70" width="21.00" height="16.54" fill="rgb(252,228,230)"/>
<rect x="435.50" y="779.70" width="21.00" height="16.54" fill="rgb(226,226,250)"/>
<rect x="456.00" y="779.70" width="21.00" height="16.54" fill="rgb(226,226,250)"/>
<rect x="497.00" y="779.70" width="21.00" height="16.54" fill="rgb(226,226,250)"/>
<rect x="538.00" y="779.70" width="21.00" height="16.54" fill="rgb(226,226,250)"/>
<rect x="558.50" y="779.70" width="21.00" height="16.54" fill="rgb(252,228,230)"/>
<rect x="579.00" y="779.70" width="21.00" height="16.54" fill="rgb(226,226,250)"/>
<rect x="599.50" y="779.70" width="21.00" height="16.54" fill="rgb(226,226,250)"/>
<rect x="661.00" y="779.70" width="21.00" height="16.54" fill="rgb(252,228,230)"/>
<rect x="353.50" y="795.74" width="21.00" height="16.54" fill="rgb(226,226,250)"/>
<rect x="394.50" y="795.74" width="21.00" height="16.54" fill="rgb(252,228,230)"/>
<rect x="415.00" y="795.74" width="21.00" height="16.54" fill="rgb(252,228,230)"/>
<rect x="456.00" y="795.74" width="21.00" height="16.54" fill="rgb(226,226,250)"/>
<rect x="476.50" y="795.74" width="21.00" height="16.54" fill="rgb(252,228,230)"/>
<rect x="517.50" y="795.74" width="21.00" height="16.54" fill="rgb(250,202,204)"/>
<rect x="579.00" y="795.74" width="21.00" height="16.54" fill="rgb(252,228,230)"/>
<rect x="579.00" y="811.78" width="21.00" height="16.54" fill="rgb(252,228,230)"/>
<rect x="661.00" y="811.78" width="21.00" height="16.54" fill="rgb(250,202,204)"/>
<rect x="333.00" y="827.82" width="21.00" height="16.54" fill="rgb(175,175,248)"/>
<rect x="394.50" y="827.82" width="21.00" height="16.54" fill="rgb(244,124,126)"/>
<rect x="415.00" y="827.82" width="21.00" height="16.54" fill="rgb(242,98,100)"/>
<rect x="435.50" y="827.82" width="21.00" height="16.54" fill="rgb(226,226,250)"/>
<rect x="476.50" y="827.82" width="21.00" height="16.54" fill="rgb(252,228,230)"/>
<rect x="517.50" y="827.82" width="21.00" height="16.54" fill="rgb(252,228,230)"/>
<rect x="558.50" y="827.82" width="21.00" height="16.54" fill="rgb(226,226,250)"/>
<rect x="579.00" y="827.82" width="21.00" height="16.54" fill="rgb(250,202,204)"/>
<rect x="599.50" y="827.82" width="21.00" height="16.54" fill="rgb(252,228,230)"/>
<rect x="333.00" y="843.86" width="21.00" height="16.54" fill="rgb(200,200,249)"/>
<rect x="353.50" y="843.86" width="21.00" height="16.54" fill="rgb(248,176,178)"/>
<rect x="374.00" y="843.86" width="21.00" height="16.54" fill="rgb(248,176,178)"/>
<rect x="394.50" y="843.86" width="21.00" height="16.54" fill="rgb(252,228,230)"/>
<rect x="415.00" y="843.86" width="21.00" height="16.54" fill="rgb(250,202,204)"/>
<rect x="435.50" y="843.86" width="21.00" height="16.54" fill="rgb(200,200,249)"/>
<rect x="456.00" y="843.86" width="21.00" height="16.54" fill="rgb(226,226,250)"/>
<rect x="476.50" y="843.86" width="21.00" height="16.54" fill="rgb(250,202,204)"/>
<rect x="517.50" y="843.86" width="21.00" height="16.54" fill="rgb(250,202,204)"/>
<rect x="599.50" y="843.86" width="21.00" height="16.54" fill="rgb(252,228,230)"/>
<rect x="661.00" y="843.86" width="21.00" height="16.54" fill="rgb(250,202,204)"/>
<rect x="456.00" y="859.90" width="21.00" height="16.54" fill="rgb(226,226,250)"/>
<rect x="640.50" y="859.90" width="21.00" height="16.54" fill="rgb(226,226,250)"/>
<rect x="661.00" y="859.90" width="21.00" height="16.54" fill="rgb(250,202,204)"/>
<rect x="333.00" y="875.94" width="21.00" height="16.54" fill="rgb(200,200,249)"/>
<rect x="353.50" y="875.94" width="21.00" height="16.54" fill="rgb(252,228,230)"/>
<rect x="374.00" y="875.94" width="21.00" height="16.54" fill="rgb(248,176,178)"/>
<rect x="435.50" y="875.94" width="21.00" height="16.54" fill="rgb(200,200,249)"/>
<rect x="579.00" y="875.94" width="21.00" height="16.54" fill="rgb(252,228,230)"/>
<rect x="661.00" y="875.94" width="21.00" height="16.54" fill="rgb(248,176,178)"/>
<rect x="333.00" y="891.98" width="21.00" height="16.54" fill="rgb(226,226,250)"/>
<rect x="353.50" y="891.98" width="21.00" height="16.54" fill="rgb(252,228,230)"/>
<rect x="374.00" y="891.98" width="21.00" height="16.54" fill="rgb(252,228,230)"/>
<rect x="394.50" y="891.98" width="21.00" height="16.54" fill="rgb(252,228,230)"/>
<rect x="415.00" y="891.98" width="21.00" height="16.54" fill="rgb(252,228,230)"/>
<rect x="435.50" y="891.98" width="21.00" height="16.54" fill="rgb(226,226,250)"/>
<rect x="476.50" y="891.98" width="21.00" height="16.54" fill="rgb(250,202,204)"/>
<rect x="517.50" y="891.98" width="21.00" height="16.54" fill="rgb(252,228,230)"/>
<rect x="538.00" y="891.98" width="21.00" height="16.54" fill="rgb(252,228,230)"/>
<use href="#one" x="359.21" y="621.20" fill="#111"/>
<use href="#one" x="523.69" y="621.20" fill="#111"/>
<use href="#one" x="564.81" y="621.20" fill="#111"/>
<use href="#one" x="626.49" y="621.20" fill="#111"/>
<use href="#one" x="647.05" y="621.20" fill="#111"/>
<use href="#one" x="667.61" y="621.20" fill="#111"/>
<text x="342.75" y="649.11" font-size="16.5" font-weight="bold" fill="#111" text-anchor="middle">3</text>
<text x="363.30" y="649.11" font-size="16.5" font-weight="bold" fill="#111" text-anchor="middle">2</text>
<text x="404.40" y="649.11" font-size="16.5" font-weight="bold" fill="#111" text-anchor="middle">3</text>
<text x="424.95" y="649.11" font-size="16.5" font-weight="bold" fill="#111" text-anchor="middle">2</text>
<use href="#one" x="441.45" y="637.24" fill="#111"/>
<use href="#one" x="482.57" y="637.24" fill="#111"/>
<text x="589.35" y="649.11" font-size="16.5" font-weight="bold" fill="#111" text-anchor="middle">2</text>
<use href="#one" x="626.49" y="637.24" fill="#111"/>
<use href="#one" x="338.65" y="653.28" fill="#111"/>
<use href="#one" x="400.33" y="653.28" fill="#111"/>
<text x="424.95" y="665.15" font-size="16.5" font-weight="bold" fill="#111" text-anchor="middle">2</text>
<text x="445.50" y="665.15" font-size="16.5" font-weight="bold" fill="#111" text-anchor="middle">2</text>
<use href="#one" x="462.01" y="653.28" fill="#111"/>
<use href="#one" x="503.13" y="653.28" fill="#111"/>
<text x="651.00" y="665.15" font-size="16.5" font-weight="bold" fill="#111" text-anchor="middle">2</text>
<use href="#one" x="667.61" y="653.28" fill="#111"/>
<text x="342.75" y="681.19" font-size="16.5" font-weight="bold" fill="#111" text-anchor="middle">2</text>
<use href="#one" x="626.49" y="669.32" fill="#111"/>
<use href="#one" x="647.05" y="669.32" fill="#111"/>
<text x="342.75" y="697.23" font-size="16.5" font-weight="bold" fill="#111" text-anchor="middle">2</text>
<use href="#one" x="400.33" y="685.36" fill="#111"/>
<use href="#one" x="420.89" y="685.36" fill="#111"/>
<use href="#one" x="441.45" y="685.36" fill="#111"/>
<use href="#one" x="585.37" y="685.36" fill="#111"/>
<text x="609.90" y="697.23" font-size="16.5" font-weight="bold" fill="#111" text-anchor="middle">2</text>
<use href="#one" x="626.49" y="685.36" fill="#111"/>
<use href="#one" x="667.61" y="685.36" fill="#111"/>
<text x="342.75" y="713.27" font-size="16.5" font-weight="bold" fill="#111" text-anchor="middle">3</text>
<use href="#one" x="379.77" y="701.40" fill="#111"/>
<use href="#one" x="441.45" y="701.40" fill="#111"/>
<use href="#one" x="482.57" y="701.40" fill="#111"/>
<use href="#one" x="523.69" y="701.40" fill="#111"/>
<text x="548.25" y="713.27" font-size="16.5" font-weight="bold" fill="#111" text-anchor="middle">2</text>
<text x="589.35" y="713.27" font-size="16.5" font-weight="bold" fill="#111" text-anchor="middle">3</text>
<use href="#one" x="605.93" y="701.40" fill="#111"/>
<use href="#one" x="647.05" y="701.40" fill="#111"/>
<use href="#one" x="667.61" y="701.40" fill="#111"/>
<use href="#one" x="359.21" y="717.44" fill="#111"/>
<use href="#one" x="379.77" y="717.44" fill="#111"/>
<use href="#one" x="523.69" y="717.44" fill="#111"/>
<use href="#one" x="626.49" y="717.44" fill="#111"/>
<use href="#one" x="441.45" y="733.48" fill="#111"/>
<use href="#one" x="482.57" y="733.48" fill="#111"/>
<use href="#one" x="523.69" y="733.48" fill="#111"/>
<use href="#one" x="564.81" y="733.48" fill="#111"/>
<use href="#one" x="667.61" y="733.48" fill="#111"/>
<use href="#one" x="338.65" y="749.52" fill="#111"/>
<text x="363.30" y="761.39" font-size="16.5" font-weight="bold" fill="#111" text-anchor="middle">2</text>
<text x="383.85" y="761.39" font-size="16.5" font-weight="bold" fill="#111" text-anchor="middle">2</text>
<use href="#one" x="400.33" y="749.52" fill="#111"/>
<use href="#one" x="420.89" y="749.52" fill="#111"/>
<use href="#one" x="441.45" y="749.52" fill="#111"/>
<use href="#one" x="482.57" y="749.52" fill="#111"/>
<use href="#one" x="523.69" y="749.52" fill="#111"/>
<use href="#one" x="605.93" y="749.52" fill="#111"/>
<use href="#one" x="462.01" y="765.56" fill="#111"/>
<use href="#one" x="523.69" y="765.56" fill="#111"/>
<use href="#one" x="564.81" y="765.56" fill="#111"/>
<use href="#one" x="647.05" y="765.56" fill="#111"/>
<use href="#one" x="667.61" y="765.56" fill="#111"/>
<use href="#one" x="338.65" y="781.60" fill="#111"/>
<use href="#one" x="359.21" y="781.60" fill="#111"/>
<use href="#one" x="379.77" y="781.60" fill="#111"/>
<use href="#one" x="441.45" y="781.60" fill="#111"/>
<use href="#one" x="462.01" y="781.60" fill="#111"/>
<use href="#one" x="503.13" y="781.60" fill="#111"/>
<use href="#one" x="544.25" y="781.60" fill="#111"/>
<use href="#one" x="564.81" y="781.60" fill="#111"/>
<use href="#one" x="585.37" y="781.60" fill="#111"/>
<use href="#one" x="605.93" y="781.60" fill="#111"/>
<use href="#one" x="667.61" y="781.60" fill="#111"/>
<use href="#one" x="359.21" y="797.64" fill="#111"/>
<use href="#one" x="400.33" y="797.64" fill="#111"/>
<use href="#one" x="420.89" y="797.64" fill="#111"/>
<use href="#one" x="462.01" y="797.64" fill="#111"/>
<use href="#one" x="482.57" y="797.64" fill="#111"/>
<text x="527.70" y="809.51" font-size="16.5" font-weight="bold" fill="#111" text-anchor="middle">2</text>
<use href="#one" x="585.37" y="797.64" fill="#111"/>
<use href="#one" x="585.37" y="813.68" fill="#111"/>
<text x="671.55" y="825.55" font-size="16.5" font-weight="bold" fill="#111" text-anchor="middle">2</text>
<text x="342.75" y="841.59" font-size="16.5" font-weight="bold" fill="#111" text-anchor="middle">3</text>
<text x="404.40" y="841.59" font-size="16.5" font-weight="bold" fill="#111" text-anchor="middle">5</text>
<text x="424.95" y="841.59" font-size="16.5" font-weight="bold" fill="#111" text-anchor="middle">6</text>
<use href="#one" x="441.45" y="829.72" fill="#111"/>
<use href="#one" x="482.57" y="829.72" fill="#111"/>
<use href="#one" x="523.69" y="829.72" fill="#111"/>
<use href="#one" x="564.81" y="829.72" fill="#111"/>
<text x="589.35" y="841.59" font-size="16.5" font-weight="bold" fill="#111" text-anchor="middle">2</text>
<use href="#one" x="605.93" y="829.72" fill="#111"/>
<text x="342.75" y="857.63" font-size="16.5" font-weight="bold" fill="#111" text-anchor="middle">2</text>
<text x="363.30" y="857.63" font-size="16.5" font-weight="bold" fill="#111" text-anchor="middle">3</text>
<text x="383.85" y="857.63" font-size="16.5" font-weight="bold" fill="#111" text-anchor="middle">3</text>
<use href="#one" x="400.33" y="845.76" fill="#111"/>
<text x="424.95" y="857.63" font-size="16.5" font-weight="bold" fill="#111" text-anchor="middle">2</text>
<text x="445.50" y="857.63" font-size="16.5" font-weight="bold" fill="#111" text-anchor="middle">2</text>
<use href="#one" x="462.01" y="845.76" fill="#111"/>
<text x="486.60" y="857.63" font-size="16.5" font-weight="bold" fill="#111" text-anchor="middle">2</text>
<text x="527.70" y="857.63" font-size="16.5" font-weight="bold" fill="#111" text-anchor="middle">2</text>
<use href="#one" x="605.93" y="845.76" fill="#111"/>
<text x="671.55" y="857.63" font-size="16.5" font-weight="bold" fill="#111" text-anchor="middle">2</text>
<use href="#one" x="462.01" y="861.80" fill="#111"/>
<use href="#one" x="647.05" y="861.80" fill="#111"/>
<text x="671.55" y="873.67" font-size="16.5" font-weight="bold" fill="#111" text-anchor="middle">2</text>
<text x="342.75" y="889.71" font-size="16.5" font-weight="bold" fill="#111" text-anchor="middle">2</text>
<use href="#one" x="359.21" y="877.84" fill="#111"/>
<text x="383.85" y="889.71" font-size="16.5" font-weight="bold" fill="#111" text-anchor="middle">3</text>
<text x="445.50" y="889.71" font-size="16.5" font-weight="bold" fill="#111" text-anchor="middle">2</text>
<use href="#one" x="585.37" y="877.84" fill="#111"/>
<text x="671.55" y="889.71" font-size="16.5" font-weight="bold" fill="#111" text-anchor="middle">3</text>
<use href="#one" x="338.65" y="893.88" fill="#111"/>
<use href="#one" x="359.21" y="893.88" fill="#111"/>
<use href="#one" x="379.77" y="893.88" fill="#111"/>
<use href="#one" x="400.33" y="893.88" fill="#111"/>
<use href="#one" x="420.89" y="893.88" fill="#111"/>
<use href="#one" x="441.45" y="893.88" fill="#111"/>
<text x="486.60" y="905.75" font-size="16.5" font-weight="bold" fill="#111" text-anchor="middle">2</text>
<use href="#one" x="523.69" y="893.88" fill="#111"/>
<use href="#one" x="544.25" y="893.88" fill="#111"/>
<rect x="332.1" y="618.6" width="349.2" height="289.3" fill="none" stroke="#a6a6a6" stroke-width="2.2" rx="1.5"/>
<rect x="454.80" y="619.7" width="2.2" height="287.1" fill="#000"/>
<rect x="556.80" y="619.7" width="2.2" height="287.1" fill="#000"/>
<rect x="194.6" y="713.70" width="486.7" height="2.4" fill="#000"/>
<rect x="194.6" y="810.70" width="486.7" height="2.4" fill="#000"/>
<text transform="translate(218.0,666.1) rotate(-90)" font-size="13.6" fill="#111" stroke="#111" stroke-width="0.5" text-anchor="middle" textLength="60" lengthAdjust="spacingAndGlyphs">Variability</text>
<rect x="227.1" y="624.2" width="1.6" height="88.4" fill="#222"/>
<rect x="292.3" y="623.4" width="1.6" height="42.0" fill="#222"/>
<rect x="292.3" y="671.9" width="1.6" height="40.9" fill="#222"/>
<rect x="230.9" y="667.7" width="101.2" height="1.4" fill="#222"/>
<text x="261.0" y="640.4" font-size="15" fill="#1a1a1a" stroke="#1a1a1a" stroke-width="0.5" text-anchor="middle" textLength="43" lengthAdjust="spacing">Linear</text>
<text x="260.7" y="656.5" font-size="15" fill="#1a1a1a" stroke="#1a1a1a" stroke-width="0.5" text-anchor="middle" textLength="27.5" lengthAdjust="spacing">acc.</text>
<text x="261.0" y="691.8" font-size="15" fill="#1a1a1a" stroke="#1a1a1a" stroke-width="0.5" text-anchor="middle" textLength="55.5" lengthAdjust="spacing">Angular</text>
<text x="261.0" y="709.1" font-size="15" fill="#1a1a1a" stroke="#1a1a1a" stroke-width="0.5" text-anchor="middle" textLength="24" lengthAdjust="spacing">vel.</text>
<text x="326.3" y="631.4" font-size="11.2" font-weight="bold" fill="#1a1a1a" letter-spacing="0.45" text-anchor="end">Lat</text>
<text x="326.3" y="647.5" font-size="11.2" font-weight="bold" fill="#1a1a1a" letter-spacing="0.45" text-anchor="end">AP</text>
<text x="326.3" y="663.5" font-size="11.2" font-weight="bold" fill="#1a1a1a" letter-spacing="0.45" text-anchor="end">Vert</text>
<text x="326.3" y="679.6" font-size="11.2" font-weight="bold" fill="#1a1a1a" letter-spacing="0.45" text-anchor="end">Roll</text>
<text x="326.3" y="695.6" font-size="11.2" font-weight="bold" fill="#1a1a1a" letter-spacing="0.45" text-anchor="end">Yaw</text>
<text x="326.3" y="711.6" font-size="11.2" font-weight="bold" fill="#1a1a1a" letter-spacing="0.45" text-anchor="end">Pitch</text>
<text transform="translate(218.0,760.4) rotate(-90)" font-size="13.6" fill="#111" stroke="#111" stroke-width="0.5" text-anchor="middle" textLength="15" lengthAdjust="spacingAndGlyphs">SD</text>
<rect x="227.1" y="719.6" width="1.6" height="88.3" fill="#222"/>
<rect x="292.3" y="719.6" width="1.6" height="42.0" fill="#222"/>
<rect x="292.3" y="767.2" width="1.6" height="40.8" fill="#222"/>
<rect x="230.9" y="763.0" width="101.2" height="1.4" fill="#222"/>
<text x="261.0" y="736.3" font-size="15" fill="#1a1a1a" stroke="#1a1a1a" stroke-width="0.5" text-anchor="middle" textLength="43" lengthAdjust="spacing">Linear</text>
<text x="260.7" y="752.7" font-size="15" fill="#1a1a1a" stroke="#1a1a1a" stroke-width="0.5" text-anchor="middle" textLength="27.5" lengthAdjust="spacing">acc.</text>
<text x="261.0" y="788.3" font-size="15" fill="#1a1a1a" stroke="#1a1a1a" stroke-width="0.5" text-anchor="middle" textLength="55.5" lengthAdjust="spacing">Angular</text>
<text x="261.0" y="804.7" font-size="15" fill="#1a1a1a" stroke="#1a1a1a" stroke-width="0.5" text-anchor="middle" textLength="24" lengthAdjust="spacing">vel.</text>
<text x="326.3" y="727.7" font-size="11.2" font-weight="bold" fill="#1a1a1a" letter-spacing="0.45" text-anchor="end">Lat</text>
<text x="326.3" y="743.7" font-size="11.2" font-weight="bold" fill="#1a1a1a" letter-spacing="0.45" text-anchor="end">AP</text>
<text x="326.3" y="759.8" font-size="11.2" font-weight="bold" fill="#1a1a1a" letter-spacing="0.45" text-anchor="end">Vert</text>
<text x="326.3" y="775.8" font-size="11.2" font-weight="bold" fill="#1a1a1a" letter-spacing="0.45" text-anchor="end">Roll</text>
<text x="326.3" y="791.8" font-size="11.2" font-weight="bold" fill="#1a1a1a" letter-spacing="0.45" text-anchor="end">Yaw</text>
<text x="326.3" y="807.9" font-size="11.2" font-weight="bold" fill="#1a1a1a" letter-spacing="0.45" text-anchor="end">Pitch</text>
<text transform="translate(218.0,860.1) rotate(-90)" font-size="13.6" fill="#111" stroke="#111" stroke-width="0.5" text-anchor="middle" textLength="38" lengthAdjust="spacingAndGlyphs">Range</text>
<rect x="227.1" y="816.0" width="1.6" height="90.0" fill="#222"/>
<rect x="292.3" y="816.0" width="1.6" height="41.7" fill="#222"/>
<rect x="292.3" y="863.7" width="1.6" height="42.3" fill="#222"/>
<rect x="230.9" y="858.5" width="101.2" height="1.4" fill="#222"/>
<text x="261.0" y="832.2" font-size="15" fill="#1a1a1a" stroke="#1a1a1a" stroke-width="0.5" text-anchor="middle" textLength="43" lengthAdjust="spacing">Linear</text>
<text x="260.7" y="848.0" font-size="15" fill="#1a1a1a" stroke="#1a1a1a" stroke-width="0.5" text-anchor="middle" textLength="27.5" lengthAdjust="spacing">acc.</text>
<text x="261.0" y="883.7" font-size="15" fill="#1a1a1a" stroke="#1a1a1a" stroke-width="0.5" text-anchor="middle" textLength="55.5" lengthAdjust="spacing">Angular</text>
<text x="261.0" y="900.1" font-size="15" fill="#1a1a1a" stroke="#1a1a1a" stroke-width="0.5" text-anchor="middle" textLength="24" lengthAdjust="spacing">vel.</text>
<text x="326.3" y="823.9" font-size="11.2" font-weight="bold" fill="#1a1a1a" letter-spacing="0.45" text-anchor="end">Lat</text>
<text x="326.3" y="840.0" font-size="11.2" font-weight="bold" fill="#1a1a1a" letter-spacing="0.45" text-anchor="end">AP</text>
<text x="326.3" y="856.0" font-size="11.2" font-weight="bold" fill="#1a1a1a" letter-spacing="0.45" text-anchor="end">Vert</text>
<text x="326.3" y="872.0" font-size="11.2" font-weight="bold" fill="#1a1a1a" letter-spacing="0.45" text-anchor="end">Roll</text>
<text x="326.3" y="888.1" font-size="11.2" font-weight="bold" fill="#1a1a1a" letter-spacing="0.45" text-anchor="end">Yaw</text>
<text x="326.3" y="904.1" font-size="11.2" font-weight="bold" fill="#1a1a1a" letter-spacing="0.45" text-anchor="end">Pitch</text>
<rect x="174.3" y="619.5" width="1.8" height="291.0" fill="#6a6a6a"/>
<text transform="translate(171.6,765.3) rotate(-90)" font-size="19.5" font-weight="bold" fill="#111" text-anchor="middle">Back</text>
<text x="102.5" y="638.6" font-size="27" font-weight="bold" fill="#111">B</text>
<path d="M352.8 526.6 V282" fill="none" stroke="#ffc000" stroke-width="2.4"/>
<path d="M348.6 283.6 L352.8 275.2 L357.0 283.6 Z" fill="#ffc000"/>
<path d="M413.2 526.6 V292.6 H457.3 V282" fill="none" stroke="#ffc000" stroke-width="2.4"/>
<path d="M453.1 283.6 L457.3 275.2 L461.5 283.6 Z" fill="#ffc000"/>
<rect x="332.9" y="527.1" width="20.3" height="17.2" fill="none" stroke="#ffc000" stroke-width="2.8"/>
<rect x="394.4" y="527.1" width="20.3" height="17.2" fill="none" stroke="#ffc000" stroke-width="2.8"/>
<text transform="translate(347.35,911.1) rotate(-90)" font-size="12" fill="#1a1a1a" stroke="#1a1a1a" stroke-width="0.15" text-anchor="end">FGA</text>
<text transform="translate(366.65,911.1) rotate(-90)" font-size="12" fill="#1a1a1a" stroke="#1a1a1a" stroke-width="0.15" text-anchor="end">TUG Ipsi-turn</text>
<text transform="translate(389.45,911.1) rotate(-90)" font-size="12" fill="#1a1a1a" stroke="#1a1a1a" stroke-width="0.15" text-anchor="end">TUG Contra-turn</text>
<text transform="translate(408.45,911.1) rotate(-90)" font-size="12" fill="#1a1a1a" stroke="#1a1a1a" stroke-width="0.15" text-anchor="end">TUG.Cog Ipsi-turn</text>
<text transform="translate(428.85,911.1) rotate(-90)" font-size="12" fill="#1a1a1a" stroke="#1a1a1a" stroke-width="0.15" text-anchor="end">TUG.Cog Contra-turn</text>
<text transform="translate(449.65,911.1) rotate(-90)" font-size="12" fill="#1a1a1a" stroke="#1a1a1a" stroke-width="0.15" text-anchor="end">Gait speed</text>
<text transform="translate(470.35,911.1) rotate(-90)" font-size="12" fill="#1a1a1a" stroke="#1a1a1a" stroke-width="0.15" text-anchor="end">Static LogMar</text>
<text transform="translate(489.75,911.1) rotate(-90)" font-size="12" fill="#1a1a1a" stroke="#1a1a1a" stroke-width="0.15" text-anchor="end">Ipsi-LogMar</text>
<text transform="translate(512.05,911.1) rotate(-90)" font-size="12" fill="#1a1a1a" stroke="#1a1a1a" stroke-width="0.15" text-anchor="end">Contra-LogMar</text>
<text transform="translate(532.45,911.1) rotate(-90)" font-size="12" fill="#1a1a1a" stroke="#1a1a1a" stroke-width="0.15" text-anchor="end">Upward-LogMar</text>
<text transform="translate(553.85,911.1) rotate(-90)" font-size="12" fill="#1a1a1a" stroke="#1a1a1a" stroke-width="0.15" text-anchor="end">Downward-LogMar</text>
<text transform="translate(575.65,911.1) rotate(-90)" font-size="12" fill="#1a1a1a" stroke="#1a1a1a" stroke-width="0.15" text-anchor="end">ABC</text>
<text transform="translate(596.15,911.1) rotate(-90)" font-size="12" fill="#1a1a1a" stroke="#1a1a1a" stroke-width="0.15" text-anchor="end">OFI</text>
<text transform="translate(615.95,911.1) rotate(-90)" font-size="12" fill="#1a1a1a" stroke="#1a1a1a" stroke-width="0.15" text-anchor="end">PPPD</text>
<text transform="translate(636.35,911.1) rotate(-90)" font-size="12" fill="#1a1a1a" stroke="#1a1a1a" stroke-width="0.15" text-anchor="end">DHI</text>
<text transform="translate(656.15,911.1) rotate(-90)" font-size="12" fill="#1a1a1a" stroke="#1a1a1a" stroke-width="0.15" text-anchor="end">Autophony</text>
<text transform="translate(677.15,911.1) rotate(-90)" font-size="12" fill="#1a1a1a" stroke="#1a1a1a" stroke-width="0.15" text-anchor="end">BAI</text>
<defs>
<linearGradient id="gr" x1="0" y1="1" x2="0" y2="0"><stop offset="0" stop-color="rgb(252,228,232)"/><stop offset="0.5" stop-color="rgb(248,108,108)"/><stop offset="0.8" stop-color="rgb(240,45,45)"/><stop offset="1" stop-color="rgb(230,0,0)"/></linearGradient>
<linearGradient id="gb" x1="0" y1="1" x2="0" y2="0"><stop offset="0" stop-color="rgb(226,226,250)"/><stop offset="0.5" stop-color="rgb(110,110,250)"/><stop offset="0.8" stop-color="rgb(45,45,242)"/><stop offset="1" stop-color="rgb(0,0,220)"/></linearGradient>
</defs>
<text x="232.6" y="953.3" font-size="9.6" font-weight="bold" fill="#222" text-anchor="middle" textLength="53" lengthAdjust="spacing">Number of</text>
<text x="231.7" y="965.6" font-size="9.6" font-weight="bold" fill="#222" text-anchor="middle" textLength="83" lengthAdjust="spacing">correlated tasks</text>
<rect x="194.3" y="975.6" width="17" height="66" fill="url(#gr)"/>
<rect x="261.0" y="975.6" width="17" height="66" fill="url(#gb)"/>
<text x="191.8" y="983.4" font-size="10" fill="#555" text-anchor="end">10</text>
<text x="259.2" y="983.4" font-size="10" fill="#555" text-anchor="end">10</text>
<text x="191.0" y="1041.2" font-size="10" fill="#555" text-anchor="end">1</text>
<text x="258.4" y="1041.2" font-size="10" fill="#555" text-anchor="end">1</text>
<text x="194.8" y="1054.4" font-size="10" fill="#4a4a4a" text-anchor="middle" textLength="42" lengthAdjust="spacing">Negative</text>
<text x="194.5" y="1067.2" font-size="10" fill="#4a4a4a" text-anchor="middle" textLength="55" lengthAdjust="spacing">Correlation</text>
<text x="276.3" y="1054.4" font-size="10" fill="#4a4a4a" text-anchor="middle" textLength="37" lengthAdjust="spacing">Positive</text>
<text x="275.4" y="1067.2" font-size="10" fill="#4a4a4a" text-anchor="middle" textLength="54" lengthAdjust="spacing">Correlation</text>
</svg></body></html>
